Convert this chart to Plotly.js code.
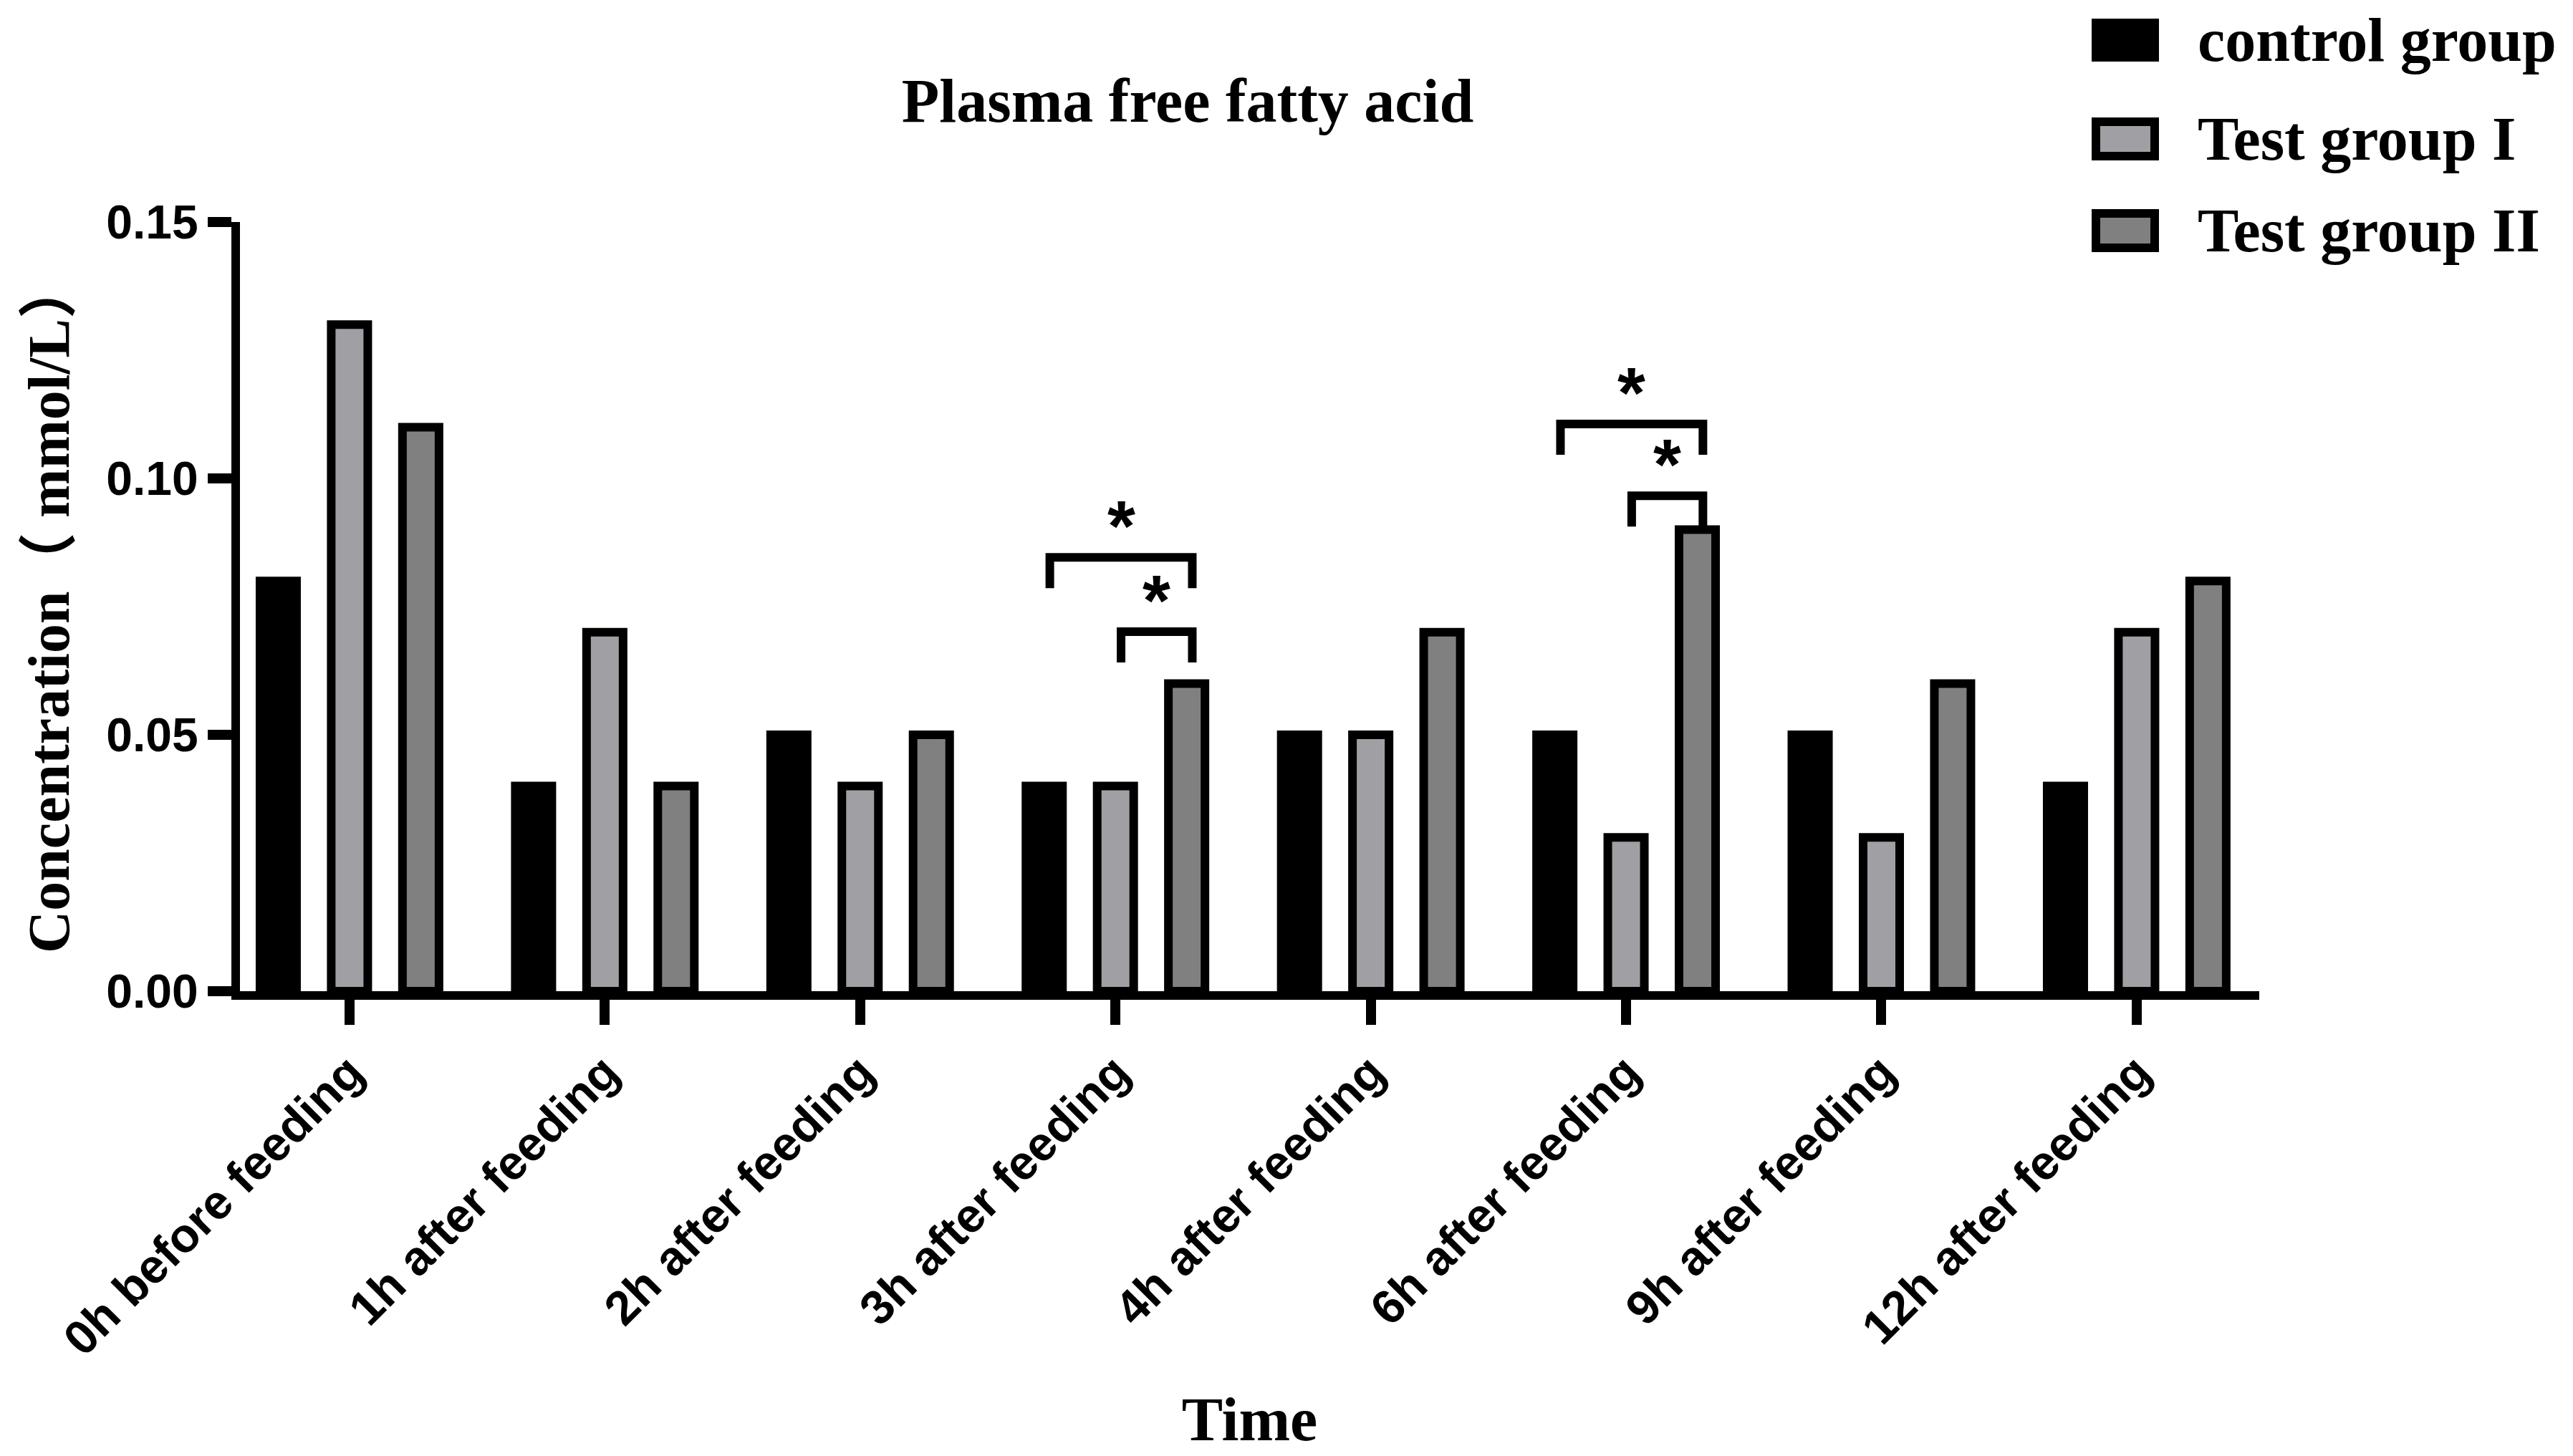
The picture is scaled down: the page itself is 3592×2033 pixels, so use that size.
<!DOCTYPE html>
<html><head><meta charset="utf-8">
<script src="https://cdn.plot.ly/plotly-3.0.1.min.js"></script>
<style>html,body{margin:0;padding:0;background:#fff;}#chart{width:3592px;height:2033px;}</style>
</head><body><div id="chart"></div>
<script>
// ---- data ----
const categories = ['0h before feeding', '1h after feeding', '2h after feeding', '3h after feeding',
                    '4h after feeding', '6h after feeding', '9h after feeding', '12h after feeding'];
const controlGroup = [0.08, 0.04, 0.05, 0.04, 0.05, 0.05, 0.05, 0.04];
const testGroupI   = [0.13, 0.07, 0.04, 0.04, 0.05, 0.03, 0.03, 0.07];
const testGroupII  = [0.11, 0.04, 0.05, 0.06, 0.07, 0.09, 0.06, 0.08];
const seriesNames  = ['control group', 'Test group I', 'Test group II'];
const yTickValues  = [0, 0.05, 0.10, 0.15];
// significance brackets: category, compared bars (series index), bracket level
const significance = [
  {category: '3h after feeding', from: 0, to: 2, level: 0.0846, label: '*'},
  {category: '3h after feeding', from: 1, to: 2, level: 0.0701, label: '*'},
  {category: '6h after feeding', from: 0, to: 2, level: 0.1106, label: '*'},
  {category: '6h after feeding', from: 1, to: 2, level: 0.0966, label: '*'}
];

// ---- style / layout ----
const seriesColors = ['#000000', '#a0a0a4', '#808080'];
const W = 3592, H = 2033;
const M = {l: 335, r: 438, t: 310, b: 649};
const plotW = W - M.l - M.r, plotH = H - M.t - M.b;
const BARGAP = 0.163, GROUPGAP = 0.487;
const slot = (1 - BARGAP) / 3;
const serif = 'Liberation Serif, Times New Roman, Noto Sans CJK SC, serif';
const sans = 'Liberation Sans, Arial, sans-serif';
const LW = 12;
const legDrop = 0.006, starLift = 0.0062, bracketShift = 0.022;

const seriesValues = [controlGroup, testGroupI, testGroupII];
const traces = seriesValues.map((vals, i) => ({
  type: 'bar', name: seriesNames[i], x: categories, y: vals,
  marker: {color: seriesColors[i], line: {color: '#000000', width: LW}},
  showlegend: false
}));

const px2paperX = p => (p - M.l) / plotW;
const px2paperY = p => (H - M.b - p) / plotH;

const shapes = [];
const annotations = [];

significance.forEach(s => {
  const c = categories.indexOf(s.category);
  const xa = c + (s.from - 1) * slot + bracketShift;
  const xb = c + (s.to - 1) * slot + bracketShift;
  const yt = s.level, yb = s.level - legDrop;
  shapes.push({type: 'path', xref: 'x', yref: 'y',
    path: `M ${xa},${yb} L ${xa},${yt} L ${xb},${yt} L ${xb},${yb}`,
    line: {color: '#000000', width: LW}});
  annotations.push({xref: 'x', yref: 'y', x: (xa + xb) / 2, y: yt + starLift,
    text: s.label, showarrow: false, xanchor: 'center', yanchor: 'middle',
    font: {family: sans, size: 100, weight: 'bold', color: '#000'}});
});

// custom legend
const legRows = [56, 194, 322];
seriesNames.forEach((n, i) => {
  const cy = legRows[i];
  shapes.push({type: 'rect', xref: 'paper', yref: 'paper',
    x0: px2paperX(2926), x1: px2paperX(3008), y0: px2paperY(cy - 24), y1: px2paperY(cy + 24),
    fillcolor: seriesColors[i], line: {color: '#000000', width: LW}});
  annotations.push({xref: 'paper', yref: 'paper', x: px2paperX(3066), y: px2paperY(cy),
    text: n, showarrow: false, xanchor: 'left', yanchor: 'middle',
    font: {family: serif, size: 86, weight: 'bold', color: '#000'}});
});

const layout = {
  width: W, height: H, margin: M,
  paper_bgcolor: '#ffffff', plot_bgcolor: '#ffffff',
  barmode: 'group', bargap: BARGAP, bargroupgap: GROUPGAP,
  title: {text: 'Plasma free fatty acid', x: px2paperX(1658), xref: 'paper', xanchor: 'center',
          y: 1 - 140 / H, yref: 'container', yanchor: 'middle',
          font: {family: serif, size: 86, weight: 'bold', color: '#000'}},
  xaxis: {type: 'category', range: [-0.429, 7.48], showline: true, linewidth: LW, linecolor: '#000',
          ticks: 'outside', ticklen: 35, tickwidth: 14, tickcolor: '#000', tickangle: -45,
          tickfont: {family: sans, size: 67, weight: 'bold', color: '#000'},
          showgrid: false, zeroline: false,
          title: {text: 'Time', standoff: 50, font: {family: serif, size: 86, weight: 'bold', color: '#000'}}},
  yaxis: {range: [0, 0.15], tickvals: yTickValues, tickformat: '.2f', showline: true, linewidth: LW, linecolor: '#000',
          ticks: 'outside', ticklen: 33, tickwidth: 14, tickcolor: '#000',
          tickfont: {family: sans, size: 66, weight: 'bold', color: '#000'},
          showgrid: false, zeroline: false,
          title: {text: 'Concentration（ mmol/L）', standoff: 30, font: {family: serif, size: 82, weight: 'bold', color: '#000'}}},
  shapes: shapes, annotations: annotations, showlegend: false
};

Plotly.newPlot('chart', traces, layout, {displayModeBar: false, staticPlot: true});
</script></body></html>
